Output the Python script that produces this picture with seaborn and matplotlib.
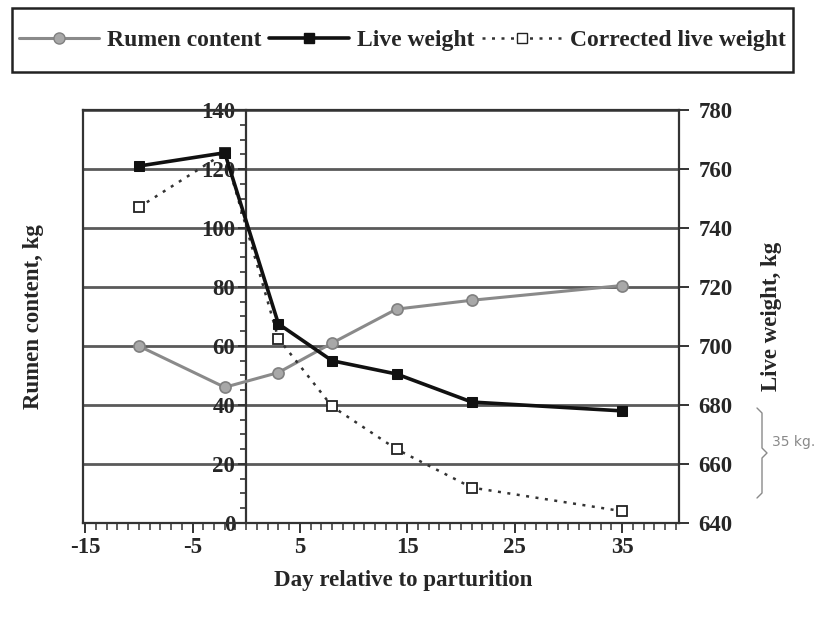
import matplotlib
matplotlib.use("Agg")
import matplotlib.pyplot as plt
import matplotlib.ticker as mticker
from matplotlib.lines import Line2D
from matplotlib.patches import Rectangle
import seaborn as sns
import pandas as pd

# ---- data ----
days = [-10, -2, 3, 8, 14, 21, 35]
rumen_content = [60, 46, 51, 61, 72.5, 75.5, 80.5]
live_weight = [761, 765.5, 707.5, 695, 690.5, 681, 678]
corrected_live_weight = [747, 765.5, 702.5, 679.5, 665, 652, 644]
x_tick_labels = [-15, -5, 5, 15, 25, 35]
left_ticks = [0, 20, 40, 60, 80, 100, 120, 140]
right_ticks = [640, 660, 680, 700, 720, 740, 760, 780]

df = pd.DataFrame({"day": days, "rumen": rumen_content,
                   "lw": live_weight, "clw": corrected_live_weight})

sns.set_theme(style="white")
plt.rcParams["font.family"] = ["Liberation Serif", "DejaVu Serif"]
plt.rcParams["font.weight"] = "bold"

fig = plt.figure(figsize=(8.33, 6.17), dpi=100)
ax = fig.add_axes([0.0996, 0.1524, 0.7155, 0.6693])
ax2 = ax.twinx()

grid_col = "#5a5a5a"
frame_col = "#333333"

# series
sns.lineplot(data=df, x="day", y="rumen", ax=ax, color="#8a8a8a", lw=2.2,
             marker="o", markersize=8, markerfacecolor="#a8a8a8",
             markeredgecolor="#808080", markeredgewidth=1.2, zorder=4)
sns.lineplot(data=df, x="day", y="clw", ax=ax2, color="#333333", lw=1.8,
             linestyle=(0, (1.2, 2.6)), marker="s", markersize=7,
             markerfacecolor="white", markeredgecolor="#222222",
             markeredgewidth=1.3, zorder=3)
sns.lineplot(data=df, x="day", y="lw", ax=ax2, color="#111111", lw=2.6,
             marker="s", markersize=7.5, markerfacecolor="#111111",
             markeredgecolor="#111111", zorder=4)

ax.set_xlim(-15.2, 40.3)
ax.set_ylim(0, 140)
ax2.set_ylim(640, 780)

# gridlines
ax.set_yticks(left_ticks)
ax.yaxis.set_minor_locator(mticker.MultipleLocator(5))
ax.grid(axis="y", which="major", color=grid_col, lw=2.0)
ax.grid(axis="x", visible=False)
ax.set_axisbelow(True)

# left axis spine at x = 0
for s in ["left", "top", "right", "bottom"]:
    ax.spines[s].set_visible(True)
    ax.spines[s].set_color(frame_col)
    ax.spines[s].set_linewidth(1.6)
ax.spines["left"].set_position(("data", 0))
ax.spines["right"].set_visible(False)
ax.tick_params(axis="y", which="major", direction="out", length=6, width=1.4,
               color=frame_col, labelsize=16.5, pad=2, left=True)
ax.tick_params(axis="y", which="minor", direction="out", length=4, width=1.2,
               color=frame_col, left=True)
ax.set_yticklabels([str(v) for v in left_ticks], fontweight="bold")

ax.set_xticks(x_tick_labels)
ax.xaxis.set_minor_locator(mticker.MultipleLocator(1))
ax.tick_params(axis="x", which="major", direction="out", length=7, width=1.4,
               color=frame_col, labelsize=16.5, pad=3, bottom=True)
ax.tick_params(axis="x", which="minor", direction="out", length=5, width=1.1,
               color=frame_col, bottom=True)
ax.set_xticklabels([str(v) for v in x_tick_labels], fontweight="bold")

# right axis and frame
for s in ["left", "top", "bottom"]:
    ax2.spines[s].set_visible(s == "left")
ax2.spines["left"].set_color(frame_col)
ax2.spines["left"].set_linewidth(1.6)
ax2.spines["right"].set_visible(True)
ax2.spines["right"].set_color(frame_col)
ax2.spines["right"].set_linewidth(1.6)
ax2.set_yticks(right_ticks)
ax2.tick_params(axis="y", direction="out", length=7, width=1.4,
                color=frame_col, labelsize=16.5, pad=7, right=True, left=False)
ax2.set_yticklabels([str(v) for v in right_ticks], fontweight="bold")
ax2.grid(False)

ax.set_xlabel("Day relative to parturition", fontsize=16.5, fontweight="bold")
ax.xaxis.set_label_coords(0.537, -0.115)
ax.set_ylabel("Rumen content, kg", fontsize=16.5, fontweight="bold")
ax.yaxis.set_label_coords(-0.065, 0.5)
ax2.set_ylabel("Live weight, kg", fontsize=16.5, fontweight="bold")
ax2.yaxis.set_label_coords(1.138, 0.5)

# legend
handles = [
    Line2D([], [], color="#8a8a8a", lw=2.2, marker="o", markersize=8,
           markerfacecolor="#a8a8a8", markeredgecolor="#808080"),
    Line2D([], [], color="#111111", lw=2.6, marker="s", markersize=7.5,
           markerfacecolor="#111111"),
    Line2D([], [], color="#333333", lw=1.8, linestyle=(0, (1.2, 2.6)),
           marker="s", markersize=7, markerfacecolor="white",
           markeredgecolor="#222222"),
]
labels = ["Rumen content", "Live weight", "Corrected live weight"]
leg = fig.legend(handles, labels, loc="center", bbox_to_anchor=(0.483, 0.935),
                 ncol=3, frameon=False,
                 handlelength=3.4, handletextpad=0.35, columnspacing=0.3,
                 borderpad=0.3, borderaxespad=0.0,
                 prop={"weight": "bold", "size": 17})
# legend box
fig.add_artist(Rectangle((12 / 833, 1 - 72 / 617), 781 / 833, 64 / 617,
                         transform=fig.transFigure, fill=False,
                         edgecolor="#222222", lw=1.8))

# handwritten annotation
pts = [(757, 408), (762, 413), (762, 448), (767, 453), (762, 458),
       (762, 493), (757, 498)]
fig.add_artist(Line2D([p[0] / 833 for p in pts], [1 - p[1] / 617 for p in pts],
                      transform=fig.transFigure, color="#8a8a8a", lw=1.0))
fig.text(772 / 833, 1 - 442 / 617, "35 kg.", fontsize=10, color="#8a8a8a",
         family=["DejaVu Sans"], fontweight="normal", va="center", ha="left")

fig.savefig("out.png", dpi=100, facecolor="white")
